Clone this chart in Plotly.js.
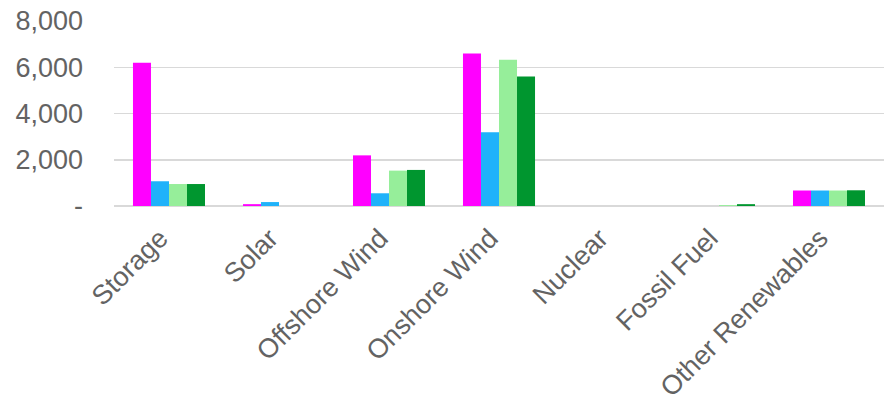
<!DOCTYPE html>
<html>
<head>
<meta charset="utf-8">
<script src="https://cdn.plot.ly/plotly-3.0.1.min.js"></script>
<style>html,body{margin:0;padding:0;background:#fff;}#chart{width:884px;height:406px;}</style>
</head>
<body>
<div id="chart"></div>
<script>
const categories = ["Storage", "Solar", "Offshore Wind", "Onshore Wind", "Nuclear", "Fossil Fuel", "Other Renewables"];
const seriesA = [6190, 80, 2190, 6600, 0, 0, 670];
const seriesB = [1070, 170, 550, 3190, 0, 0, 670];
const seriesC = [950, 0, 1530, 6320, 0, 40, 670];
const seriesD = [950, 0, 1560, 5600, 0, 80, 680];
const yTickVals = [0, 2000, 4000, 6000, 8000];
const yTickText = ["-", "2,000", "4,000", "6,000", "8,000"];
const colors = ["#FF00FF", "#1FB2FA", "#96EE9A", "#00962F"];
const names = ["A", "B", "C", "D"];

const data = [seriesA, seriesB, seriesC, seriesD].map((vals, i) => ({
  type: "bar",
  x: categories,
  y: vals,
  name: names[i],
  marker: {color: colors[i]},
  hoverinfo: "x+y"
}));

const layout = {
  width: 884, height: 406,
  margin: {l: 114, r: 0, t: 21, b: 200},
  barmode: "group",
  bargap: 0.345,
  bargroupgap: 0,
  showlegend: false,
  paper_bgcolor: "#fff",
  plot_bgcolor: "#fff",
  font: {family: "Liberation Sans, Arial, sans-serif", color: "#636363", size: 27},
  xaxis: {
    type: "category",
    tickangle: -45,
    showgrid: false,
    showline: false,
    zeroline: false,
    ticks: "",
    ticklabelstandoff: 10,
    ticklabelshift: -9,
    tickfont: {size: 27, color: "#636363"}
  },
  yaxis: {
    range: [0, 8000],
    tickvals: yTickVals,
    ticktext: yTickText,
    showgrid: true,
    gridcolor: "#D9D9D9",
    gridwidth: 1.5,
    zeroline: true,
    zerolinecolor: "#D9D9D9",
    zerolinewidth: 1.5,
    showline: false,
    ticks: "",
    ticklabelstandoff: 30,
    tickfont: {size: 27, color: "#636363"}
  }
};

Plotly.newPlot("chart", data, layout, {displayModeBar: false, staticPlot: true});
</script>
</body>
</html>
